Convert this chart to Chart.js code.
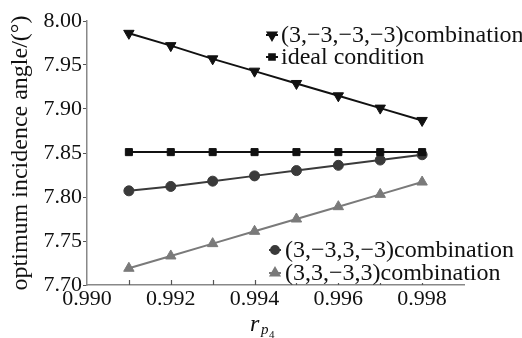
<!DOCTYPE html>
<html>
<head>
<meta charset="utf-8">
<script src="https://cdn.jsdelivr.net/npm/chart.js@4.4.1/dist/chart.umd.min.js"></script>
<style>
  html, body { margin: 0; padding: 0; background: #fff; }
</style>
</head>
<body>
<canvas id="chart" width="522" height="338"></canvas>
<script>
// data
var rValues = [0.991, 0.992, 0.993, 0.994, 0.995, 0.996, 0.997, 0.998];
var comboA = [7.986, 7.972, 7.957, 7.943, 7.929, 7.915, 7.901, 7.887]; // (3,-3,-3,-3)
var idealCond = [7.851, 7.851, 7.851, 7.851, 7.851, 7.851, 7.851, 7.851];
var comboB = [7.807, 7.812, 7.818, 7.824, 7.830, 7.836, 7.842, 7.848]; // (3,-3,3,-3)
var comboC = [7.719, 7.733, 7.747, 7.761, 7.775, 7.789, 7.803, 7.817]; // (3,3,-3,3)
var xTicks = [0.990, 0.992, 0.994, 0.996, 0.998];
var yTicks = [7.70, 7.75, 7.80, 7.85, 7.90, 7.95, 8.00];

var serif = "'Liberation Serif', 'Times New Roman', serif";

function toPoints(vals) {
    return rValues.map(function(x, i) { return { x: x, y: vals[i] }; });
}

const series = [
    { label: '(3,\u22123,\u22123,\u22123)combination', data: comboA, color: '#111', style: 'triangle', rot: 180, r: 6 },
    { label: 'ideal condition', data: idealCond, color: '#111', style: 'rect', rot: 0, r: 5 },
    { label: '(3,\u22123,3,\u22123)combination', data: comboB, color: '#3a3a3a', style: 'circle', rot: 0, r: 5 },
    { label: '(3,3,\u22123,3)combination', data: comboC, color: '#7a7a7a', style: 'triangle', rot: 0, r: 6 }
];

// inward minor ticks on x, axis title with subscripts, and the two legend blocks
const extrasPlugin = {
    id: 'extras',
    afterDraw: function(chart) {
        const ctx = chart.ctx;
        const xs = chart.scales.x;
        const area = chart.chartArea;
        ctx.save();
        ctx.strokeStyle = '#555';
        ctx.lineWidth = 1.2;
        rValues.forEach(function(v) {
            const px = Math.round(xs.getPixelForValue(v)) + 0.5;
            ctx.beginPath();
            ctx.moveTo(px, area.bottom);
            ctx.lineTo(px, area.bottom - 5);
            ctx.stroke();
        });

        // x title r_{p_4}
        ctx.fillStyle = '#111';
        ctx.textBaseline = 'alphabetic';
        ctx.font = 'italic 24px ' + serif;
        ctx.fillText('r', 250, 331);
        ctx.font = 'italic 15px ' + serif;
        ctx.fillText('p', 261, 334);
        ctx.font = '11px ' + serif;
        ctx.fillText('4', 269, 338);

        // legends
        function legendRow(s, mx, tx, y) {
            ctx.strokeStyle = s.color;
            ctx.lineWidth = 2;
            ctx.beginPath();
            ctx.moveTo(mx - 6, y);
            ctx.lineTo(mx + 6, y);
            ctx.stroke();
            ctx.fillStyle = s.color;
            Chart.helpers.drawPoint(ctx, { pointStyle: s.style, radius: s.r - 1, rotation: s.rot, borderWidth: 1 }, mx, y);
            ctx.fillStyle = '#111';
            ctx.font = '24px ' + serif;
            ctx.textBaseline = 'middle';
            ctx.fillText(s.label, tx, y + 1);
        }
        legendRow(series[0], 272, 281, 35);
        legendRow(series[1], 272, 281, 57);

        ctx.fillStyle = '#fff';
        ctx.fillRect(266, 238, 256, 45);
        legendRow(series[2], 275, 285, 250);
        legendRow(series[3], 275, 285, 273);
        ctx.restore();
    }
};

const newChart = new Chart(document.getElementById('chart'), {
    type: 'line',
    data: {
        datasets: series.map(function(s) {
            return {
                label: s.label,
                data: toPoints(s.data),
                borderColor: s.color,
                backgroundColor: s.color,
                borderWidth: 2,
                pointStyle: s.style,
                pointRotation: s.rot,
                pointRadius: s.r,
                pointBorderWidth: 1,
                tension: 0
            };
        })
    },
    options: {
        responsive: false,
        animation: false,
        layout: { padding: { top: 21, right: 58, left: 0, bottom: 0 } },
        plugins: {
            legend: { display: false },
            tooltip: { enabled: false }
        },
        scales: {
            x: {
                type: 'linear',
                min: 0.990,
                max: 0.999,
                afterBuildTicks: function(scale) {
                    scale.ticks = xTicks.map(function(v) { return { value: v }; });
                },
                afterFit: function(scale) { scale.height = 53; },
                border: { color: '#888', width: 1.5 },
                grid: { drawOnChartArea: false, drawTicks: false },
                ticks: {
                    padding: 1,
                    maxRotation: 0,
                    color: '#111',
                    font: { family: serif, size: 22 },
                    callback: function(v) { return v.toFixed(3); }
                }
            },
            y: {
                min: 7.70,
                max: 8.00,
                afterBuildTicks: function(scale) {
                    scale.ticks = yTicks.map(function(v) { return { value: v }; });
                },
                afterFit: function(scale) { scale.width = 87; },
                border: { color: '#888', width: 1.5 },
                grid: { drawOnChartArea: false, drawTicks: true, tickLength: 4, color: '#555' },
                title: {
                    display: true,
                    text: 'optimum incidence angle/(\u00b0)',
                    color: '#111',
                    font: { family: serif, size: 24 },
                    padding: { top: 6, bottom: 0 }
                },
                ticks: {
                    padding: 1,
                    color: '#111',
                    font: { family: serif, size: 22 },
                    callback: function(v) { return v.toFixed(2); }
                }
            }
        }
    },
    plugins: [extrasPlugin]
});
</script>
</body>
</html>
